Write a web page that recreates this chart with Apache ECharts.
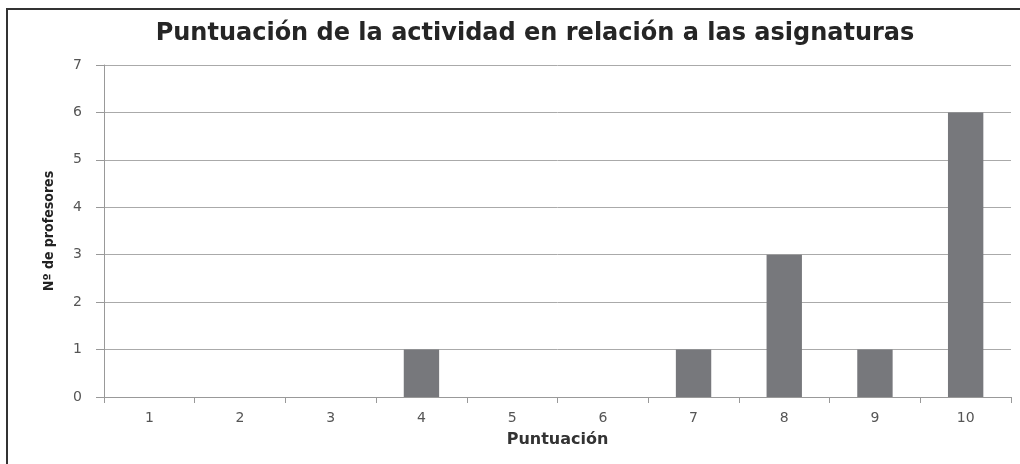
<!DOCTYPE html>
<html>
<head>
<meta charset="utf-8">
<script src="https://cdn.jsdelivr.net/npm/echarts@6/dist/echarts.min.js"></script>
<style>
  html, body { margin: 0; padding: 0; background: #fff; overflow: hidden; }
  #frame { position: absolute; left: 6px; top: 8px; width: 1040px; height: 480px; border: 2px solid #333; box-sizing: border-box; }
  #chart { position: absolute; left: 0; top: 0; width: 1020px; height: 464px; }
</style>
</head>
<body>
<div id="frame"></div>
<div id="chart"></div>
<script>
// puntuación (categorías) y número de profesores
const categories = ["1", "2", "3", "4", "5", "6", "7", "8", "9", "10"];
const profesores = [0, 0, 0, 1, 0, 0, 1, 3, 1, 6];
const yTicks = [0, 1, 2, 3, 4, 5, 6, 7];

const chart = echarts.init(document.getElementById("chart"));

const option = {
  animation: false,
  title: {
    text: "Puntuación de la actividad en relación a las asignaturas",
    left: 530,
    top: 17,
    textAlign: "center",
    textStyle: {
      fontFamily: "DejaVu Sans",
      fontWeight: "bold",
      fontSize: 24,
      color: "#252525",
    },
  },
  grid: {
    left: 104,
    right: 9,
    top: 65,
    bottom: 67,
  },
  xAxis: {
    type: "category",
    data: categories,
    name: "Puntuación",
    nameLocation: "middle",
    nameGap: 35,
    nameTextStyle: {
      fontFamily: "DejaVu Sans",
      fontWeight: "bold",
      fontSize: 16,
      color: "#333",
    },
    axisLine: { lineStyle: { color: "#999", width: 1 } },
    axisTick: { show: true, length: 6, lineStyle: { color: "#999" } },
    axisLabel: {
      margin: 14,
      fontFamily: "DejaVu Sans",
      fontSize: 14,
      color: "#555",
    },
  },
  yAxis: {
    type: "value",
    min: yTicks[0],
    max: yTicks[yTicks.length - 1],
    interval: 1,
    name: "Nº de profesores",
    nameLocation: "middle",
    nameGap: 48,
    nameTextStyle: {
      fontFamily: "'DejaVu Sans Condensed', 'DejaVu Sans'",
      fontWeight: "bold",
      fontSize: 14,
      color: "#222",
    },
    axisLine: { show: true, lineStyle: { color: "#999", width: 1 } },
    axisTick: { show: true, length: 8, lineStyle: { color: "#999" } },
    axisLabel: {
      margin: 22,
      fontFamily: "DejaVu Sans",
      fontSize: 14,
      color: "#555",
    },
    splitLine: { lineStyle: { color: "#aaa", width: 1 } },
  },
  series: [
    {
      type: "bar",
      data: profesores,
      barWidth: "39%",
      itemStyle: { color: "#77787c" },
    },
  ],
};

chart.setOption(option);
</script>
</body>
</html>
